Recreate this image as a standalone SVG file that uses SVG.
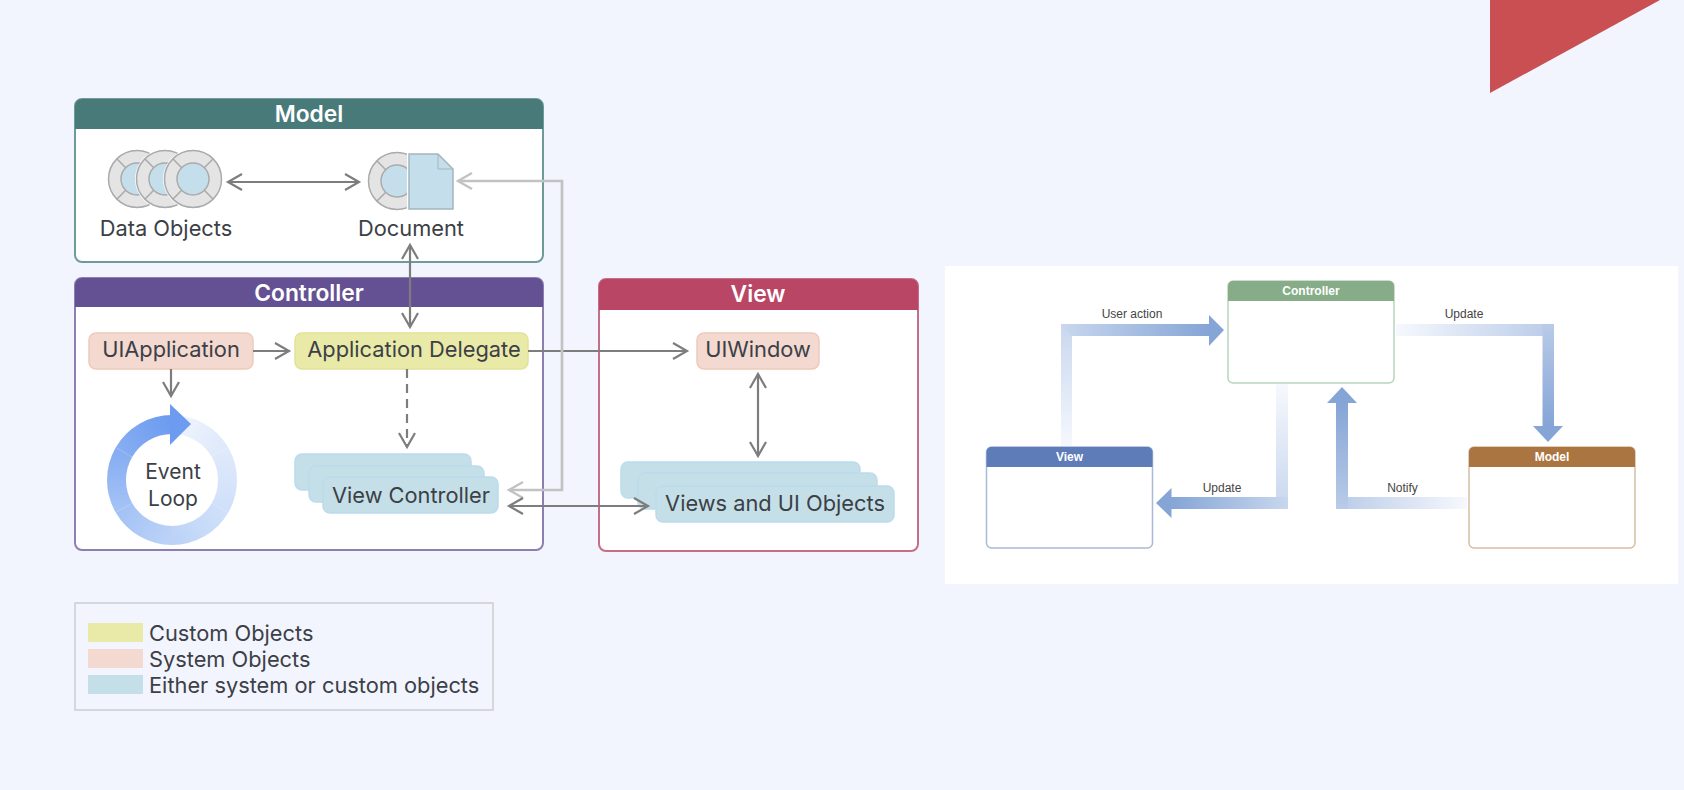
<svg xmlns="http://www.w3.org/2000/svg" width="1684" height="790" viewBox="0 0 1684 790">
<style>
text{font-family:Inter,"Liberation Sans",sans-serif;fill:#3c4046}
.t{font-size:21.8px;text-anchor:middle}
.l{font-size:21.8px}
.h{font-size:22.8px;font-weight:600;fill:#fff;text-anchor:middle}
.panel{fill:#fff;stroke-width:2}
.sys{fill:#f3d9d0;stroke:#f0cab9;stroke-width:1.5}
.cus{fill:#e9eaa8;stroke:#dfe496;stroke-width:1.5}
.eth{fill:#c5dfe8;stroke:#bbdcec;stroke-width:1.5}
.ar{fill:none;stroke:#7d7d7d;stroke-width:2.2}
.dbl{marker-start:url(#ch);marker-end:url(#ch)}
.one{marker-end:url(#ch)}
.lt{fill:none;stroke:#c2c2c2;stroke-width:2.4;marker-end:url(#chl)}
.small{font-family:"Liberation Sans",Arial,sans-serif;font-size:12px;text-anchor:middle;fill:#444}
.sh{font-family:"Liberation Sans",Arial,sans-serif;font-size:12px;font-weight:700;text-anchor:middle;fill:#fff}
.win{fill:#fff;stroke-width:1.5}
</style>
<defs>
<marker id="ch" markerUnits="userSpaceOnUse" markerWidth="20" markerHeight="24" refX="16" refY="10" orient="auto-start-reverse" viewBox="0 0 20 20"><path d="M2 2L16 10L2 18" fill="none" stroke="#7d7d7d" stroke-width="2.2"/></marker>
<marker id="chl" markerUnits="userSpaceOnUse" markerWidth="20" markerHeight="24" refX="16" refY="10" orient="auto" viewBox="0 0 20 20"><path d="M2 2L16 10L2 18" fill="none" stroke="#c2c2c2" stroke-width="2.4"/></marker>
<g id="ring">
<circle r="30" fill="#fff"/>
<circle r="28.5" fill="#e4e4e4" stroke="#aaa" stroke-width="1.5"/>
<path d="M-11.3-11.3L-20.2-20.2M11.3-11.3L20.2-20.2M-11.3 11.3L-20.2 20.2M11.3 11.3L20.2 20.2" stroke="#aaa" stroke-width="1.5"/>
<circle r="16" fill="#c4dfeb" stroke="#aaa" stroke-width="1.5"/>
</g>
<clipPath id="docclip"><rect x="360" y="140" width="47" height="80"/></clipPath>
<linearGradient id="l1" gradientUnits="userSpaceOnUse" x1="172" y1="424.5" x2="220" y2="452"><stop offset="0" stop-color="#f1f5fd"/><stop offset="1" stop-color="#dfe9fb"/></linearGradient>
<linearGradient id="l2" gradientUnits="userSpaceOnUse" x1="220" y1="452" x2="220" y2="508"><stop offset="0" stop-color="#dfe9fb"/><stop offset="1" stop-color="#d0e0fa"/></linearGradient>
<linearGradient id="l3" gradientUnits="userSpaceOnUse" x1="220" y1="508" x2="172" y2="535.5"><stop offset="0" stop-color="#d0e0fa"/><stop offset="1" stop-color="#bcd3f7"/></linearGradient>
<linearGradient id="l4" gradientUnits="userSpaceOnUse" x1="172" y1="535.5" x2="124" y2="508"><stop offset="0" stop-color="#bcd3f7"/><stop offset="1" stop-color="#a4c2f5"/></linearGradient>
<linearGradient id="l5" gradientUnits="userSpaceOnUse" x1="124" y1="508" x2="124" y2="452"><stop offset="0" stop-color="#a4c2f5"/><stop offset="1" stop-color="#86adf2"/></linearGradient>
<linearGradient id="l6" gradientUnits="userSpaceOnUse" x1="124" y1="452" x2="172" y2="424.5"><stop offset="0" stop-color="#86adf2"/><stop offset="1" stop-color="#6c9bf0"/></linearGradient>
<linearGradient id="a1" gradientUnits="userSpaceOnUse" x1="0" y1="447" x2="0" y2="324"><stop offset="0" stop-color="#f6f8fd"/><stop offset="1" stop-color="#c8d7ee"/></linearGradient>
<linearGradient id="a2" gradientUnits="userSpaceOnUse" x1="1061" y1="0" x2="1209" y2="0"><stop offset="0" stop-color="#c8d7ee"/><stop offset="1" stop-color="#85a5d6"/></linearGradient>
<linearGradient id="a3" gradientUnits="userSpaceOnUse" x1="1396" y1="0" x2="1554" y2="0"><stop offset="0" stop-color="#f6f8fd"/><stop offset="1" stop-color="#b9cbe8"/></linearGradient>
<linearGradient id="a4" gradientUnits="userSpaceOnUse" x1="0" y1="324" x2="0" y2="426"><stop offset="0" stop-color="#b9cbe8"/><stop offset="1" stop-color="#85a5d6"/></linearGradient>
<linearGradient id="a5" gradientUnits="userSpaceOnUse" x1="0" y1="384" x2="0" y2="509"><stop offset="0" stop-color="#f6f8fd"/><stop offset="1" stop-color="#c8d7ee"/></linearGradient>
<linearGradient id="a6" gradientUnits="userSpaceOnUse" x1="1288" y1="0" x2="1171" y2="0"><stop offset="0" stop-color="#c8d7ee"/><stop offset="1" stop-color="#85a5d6"/></linearGradient>
<linearGradient id="a7" gradientUnits="userSpaceOnUse" x1="1467" y1="0" x2="1336" y2="0"><stop offset="0" stop-color="#f6f8fd"/><stop offset="1" stop-color="#b9cbe8"/></linearGradient>
<linearGradient id="a8" gradientUnits="userSpaceOnUse" x1="0" y1="509" x2="0" y2="403"><stop offset="0" stop-color="#b9cbe8"/><stop offset="1" stop-color="#85a5d6"/></linearGradient>
</defs>

<rect width="1684" height="790" fill="#f2f5fe"/>
<polygon id="corner" points="1490,0 1660,0 1490,93" fill="#c94f52"/>

<g id="model-panel">
<rect class="panel" x="75" y="99" width="468" height="163" rx="7" stroke="#6f9a9a"/>
<path d="M75 129V106a7 7 0 0 1 7-7H536a7 7 0 0 1 7 7V129Z" fill="#487a7a"/>
<text class="h" x="309" y="122">Model</text>
</g>
<g id="controller-panel">
<rect class="panel" x="75" y="278" width="468" height="272" rx="7" stroke="#8d7fb0"/>
<path d="M75 307V285a7 7 0 0 1 7-7H536a7 7 0 0 1 7 7V307Z" fill="#645193"/>
<text class="h" x="309" y="301">Controller</text>
</g>
<g id="view-panel">
<rect class="panel" x="599" y="279" width="319" height="272" rx="7" stroke="#c56f85"/>
<path d="M599 310V286a7 7 0 0 1 7-7H911a7 7 0 0 1 7 7V310Z" fill="#b94664"/>
<text class="h" x="758" y="302">View</text>
</g>

<g id="data-objects">
<use href="#ring" x="137" y="179"/>
<use href="#ring" x="165" y="179"/>
<use href="#ring" x="193" y="179"/>
<text class="t" x="166" y="236">Data Objects</text>
</g>
<g id="document">
<g clip-path="url(#docclip)"><use href="#ring" x="397" y="181"/></g>
<path d="M409 154H438L453 169V209H409Z" fill="#c4dfeb" stroke="#a3b5bf" stroke-width="1.5"/>
<path d="M438 154V169H453" fill="none" stroke="#a3b5bf" stroke-width="1"/>
<text class="t" x="411" y="236">Document</text>
</g>
<g id="uiapplication">
<rect class="sys" x="89" y="333" width="164" height="36" rx="7"/>
<text class="t" x="171" y="357">UIApplication</text>
</g>
<g id="application-delegate">
<rect class="cus" x="295" y="333" width="233" height="36" rx="7"/>
<text class="t" x="414" y="357">Application Delegate</text>
</g>
<g id="event-loop">
<g fill="none" stroke-width="19">
<path d="M172 424.5A55.5 55.5 0 0 1 220.06 452.25" stroke="url(#l1)"/>
<path d="M220.06 452.25A55.5 55.5 0 0 1 220.06 507.75" stroke="url(#l2)"/>
<path d="M220.06 507.75A55.5 55.5 0 0 1 172 535.5" stroke="url(#l3)"/>
<path d="M172 535.5A55.5 55.5 0 0 1 123.94 507.75" stroke="url(#l4)"/>
<path d="M123.94 507.75A55.5 55.5 0 0 1 123.94 452.25" stroke="url(#l5)"/>
<path d="M123.94 452.25A55.5 55.5 0 0 1 172 424.5" stroke="url(#l6)"/>
</g>
<polygon points="170,404 191,424 170,445" fill="#6c9bf0"/>
<text class="t" x="173" y="479" style="font-size:21px">Event</text>
<text class="t" x="173" y="506" style="font-size:21px">Loop</text>
</g>
<g id="view-controller">
<rect class="eth" x="295" y="454" width="176" height="36" rx="7"/>
<rect class="eth" x="309" y="466" width="175" height="36" rx="7"/>
<rect class="eth" x="323" y="477" width="175" height="36" rx="7"/>
<text class="t" x="411" y="503">View Controller</text>
</g>
<g id="uiwindow">
<rect class="sys" x="697" y="333" width="122" height="36" rx="7"/>
<text class="t" x="758" y="357">UIWindow</text>
</g>
<g id="views-ui-objects">
<rect class="eth" x="621" y="462" width="239" height="36" rx="7"/>
<rect class="eth" x="638" y="473" width="239" height="36" rx="7"/>
<rect class="eth" x="656" y="486" width="238" height="36" rx="7"/>
<text class="t" x="775" y="511">Views and UI Objects</text>
</g>

<g id="connectors">
<path class="ar dbl" d="M228 182H359"/>
<path class="ar dbl" d="M410 245V327"/>
<path class="ar one" d="M253 351H289"/>
<path class="ar one" d="M528 351H687"/>
<path class="ar one" d="M171 369V396"/>
<path class="ar one" d="M407 369V447" stroke-dasharray="9 6"/>
<path class="lt" d="M562 490V181H458"/>
<path class="lt" d="M562 181V490H509"/>
<path class="ar dbl" d="M509 506H648"/>
<path class="ar dbl" d="M758 374V456"/>
</g>

<g id="legend">
<rect x="75" y="603" width="418" height="107" fill="#f3f5fe" stroke="#c4c4c4" stroke-width="1.2"/>
<rect x="88" y="623" width="55" height="19" fill="#e9eaa8"/>
<rect x="88" y="649" width="55" height="19" fill="#f3d9d0"/>
<rect x="88" y="675" width="55" height="19" fill="#c5dfe8"/>
<text class="l" x="149" y="641">Custom Objects</text>
<text class="l" x="149" y="667">System Objects</text>
<text class="l" x="149" y="693">Either system or custom objects</text>
</g>

<rect id="mvc-backdrop" x="945" y="266" width="733" height="318" fill="#fff"/>
<g id="mvc-connectors">
<path d="M1061 447V324H1072V447Z" fill="url(#a1)"/>
<path d="M1061 324H1209V315L1224 330L1209 346V336H1072Z" fill="url(#a2)"/>
<path d="M1396 324H1554V336H1396Z" fill="url(#a3)"/>
<path d="M1542.5 324H1554V426H1563L1548 442L1533 426H1542.5Z" fill="url(#a4)"/>
<path d="M1276 384H1288V509H1276Z" fill="url(#a5)"/>
<path d="M1288 497V509H1171.500V518L1156 503L1171.500 488V497Z" fill="url(#a6)"/>
<path d="M1467 497V509H1336V497Z" fill="url(#a7)"/>
<path d="M1336 509V403H1327L1342 387L1357 403H1348V509Z" fill="url(#a8)"/>
<text class="small" x="1132" y="318">User action</text>
<text class="small" x="1464" y="318">Update</text>
<text class="small" x="1222" y="492">Update</text>
<text class="small" x="1402.500" y="492">Notify</text>
</g>
<g id="mvc-controller">
<rect class="win" x="1228" y="281" width="166" height="102" rx="5" stroke="#b9d3c0"/>
<path d="M1228 301V286a5 5 0 0 1 5-5H1389a5 5 0 0 1 5 5V301Z" fill="#86ad88"/>
<text class="sh" x="1311" y="295">Controller</text>
</g>
<g id="mvc-view">
<rect class="win" x="986.500" y="447" width="166" height="101" rx="5" stroke="#a9b9d6"/>
<path d="M986.500 467V452a5 5 0 0 1 5-5H1147.500a5 5 0 0 1 5 5V467Z" fill="#5d7cb8"/>
<text class="sh" x="1069.500" y="461">View</text>
</g>
<g id="mvc-model">
<rect class="win" x="1469" y="447" width="166" height="101" rx="5" stroke="#d8bea4"/>
<path d="M1469 467V452a5 5 0 0 1 5-5H1630a5 5 0 0 1 5 5V467Z" fill="#ab7541"/>
<text class="sh" x="1552" y="461">Model</text>
</g>
</svg>
